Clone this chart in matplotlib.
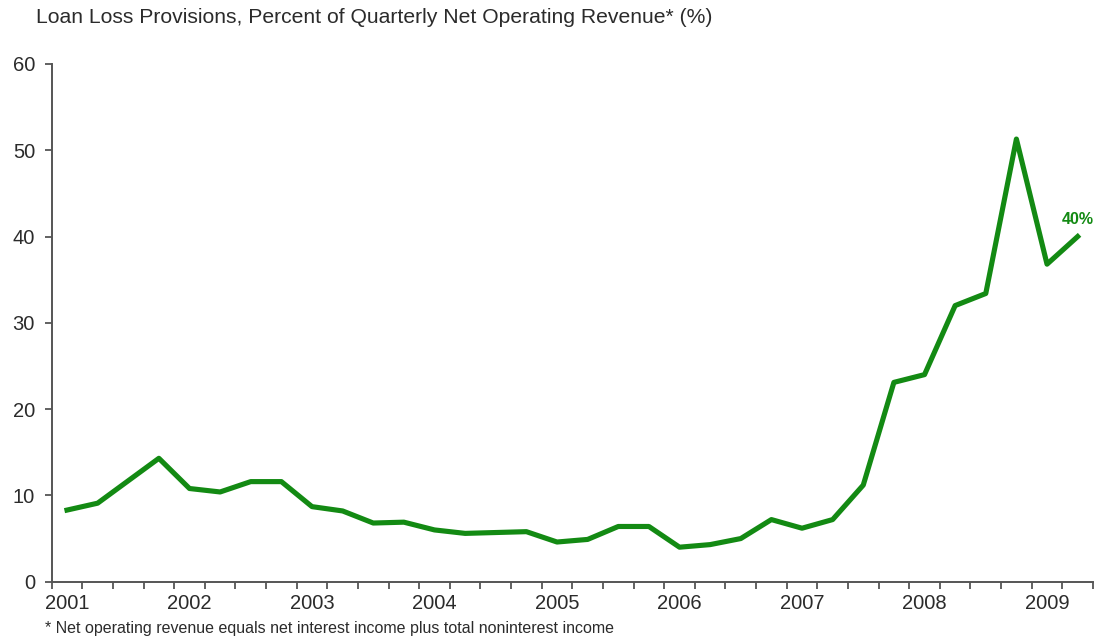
import numpy as np
import matplotlib
matplotlib.use("Agg")
import matplotlib.pyplot as plt

# quarterly series, 2001Q1 .. 2009Q2
YEARS = list(range(2001, 2010))
PROVISIONS_PCT = [8.3, 9.1, 11.7, 14.3, 10.8, 10.4, 11.6, 11.6,
                  8.7, 8.2, 6.8, 6.9, 6.0, 5.6, 5.7, 5.8,
                  4.6, 4.9, 6.4, 6.4, 4.0, 4.3, 5.0, 7.2,
                  6.2, 7.2, 11.2, 23.1, 24.0, 32.0, 33.4, 51.3,
                  36.8, 40.0]
LAST_LABEL = "40%"

GREEN = "#138a13"
INK = "#2b2b2b"
plt.rcParams["font.family"] = ["Liberation Sans", "DejaVu Sans"]

fig = plt.figure(figsize=(11.02, 6.41), dpi=100)
ax = fig.add_axes([0.0469, 0.0925, 0.9449, 0.8077])

x = np.arange(len(PROVISIONS_PCT))
ax.plot(x, PROVISIONS_PCT, color=GREEN, lw=3.7, solid_joinstyle="round")
ax.text(x[-1], PROVISIONS_PCT[-1] + 1.1, LAST_LABEL, color=GREEN,
        fontsize=11.5, fontweight="bold", ha="center", va="bottom")

ax.set_xlim(-0.5, len(x) - 0.5)
ax.set_ylim(0, 60)
ax.set_yticks(range(0, 61, 10))

# year labels sit on the Q1 point, tick marks sit between quarters
ax.set_xticks(np.arange(0, len(x), 4))
ax.set_xticklabels([str(y) for y in YEARS])
ax.set_xticks(np.arange(-0.5, len(x), 1), minor=True)
ax.tick_params(axis="x", which="major", length=0, pad=9)
ax.tick_params(axis="x", which="minor", length=5, width=1.3, color="#555555")
ax.tick_params(axis="y", length=5, width=1.3, color="#555555", pad=7)
ax.tick_params(labelsize=14.5, labelcolor=INK)

for s in ("top", "right"):
    ax.spines[s].set_visible(False)
for s in ("left", "bottom"):
    ax.spines[s].set_color("#555555")
    ax.spines[s].set_linewidth(1.4)

fig.text(0.0327, 0.964, "Loan Loss Provisions, Percent of Quarterly Net Operating Revenue* (%)",
         fontsize=15.2, color=INK, va="baseline")
fig.text(0.041, 0.0125, "* Net operating revenue equals net interest income plus total noninterest income",
         fontsize=11.5, color=INK, va="baseline")

fig.savefig("out.png", dpi=100)
